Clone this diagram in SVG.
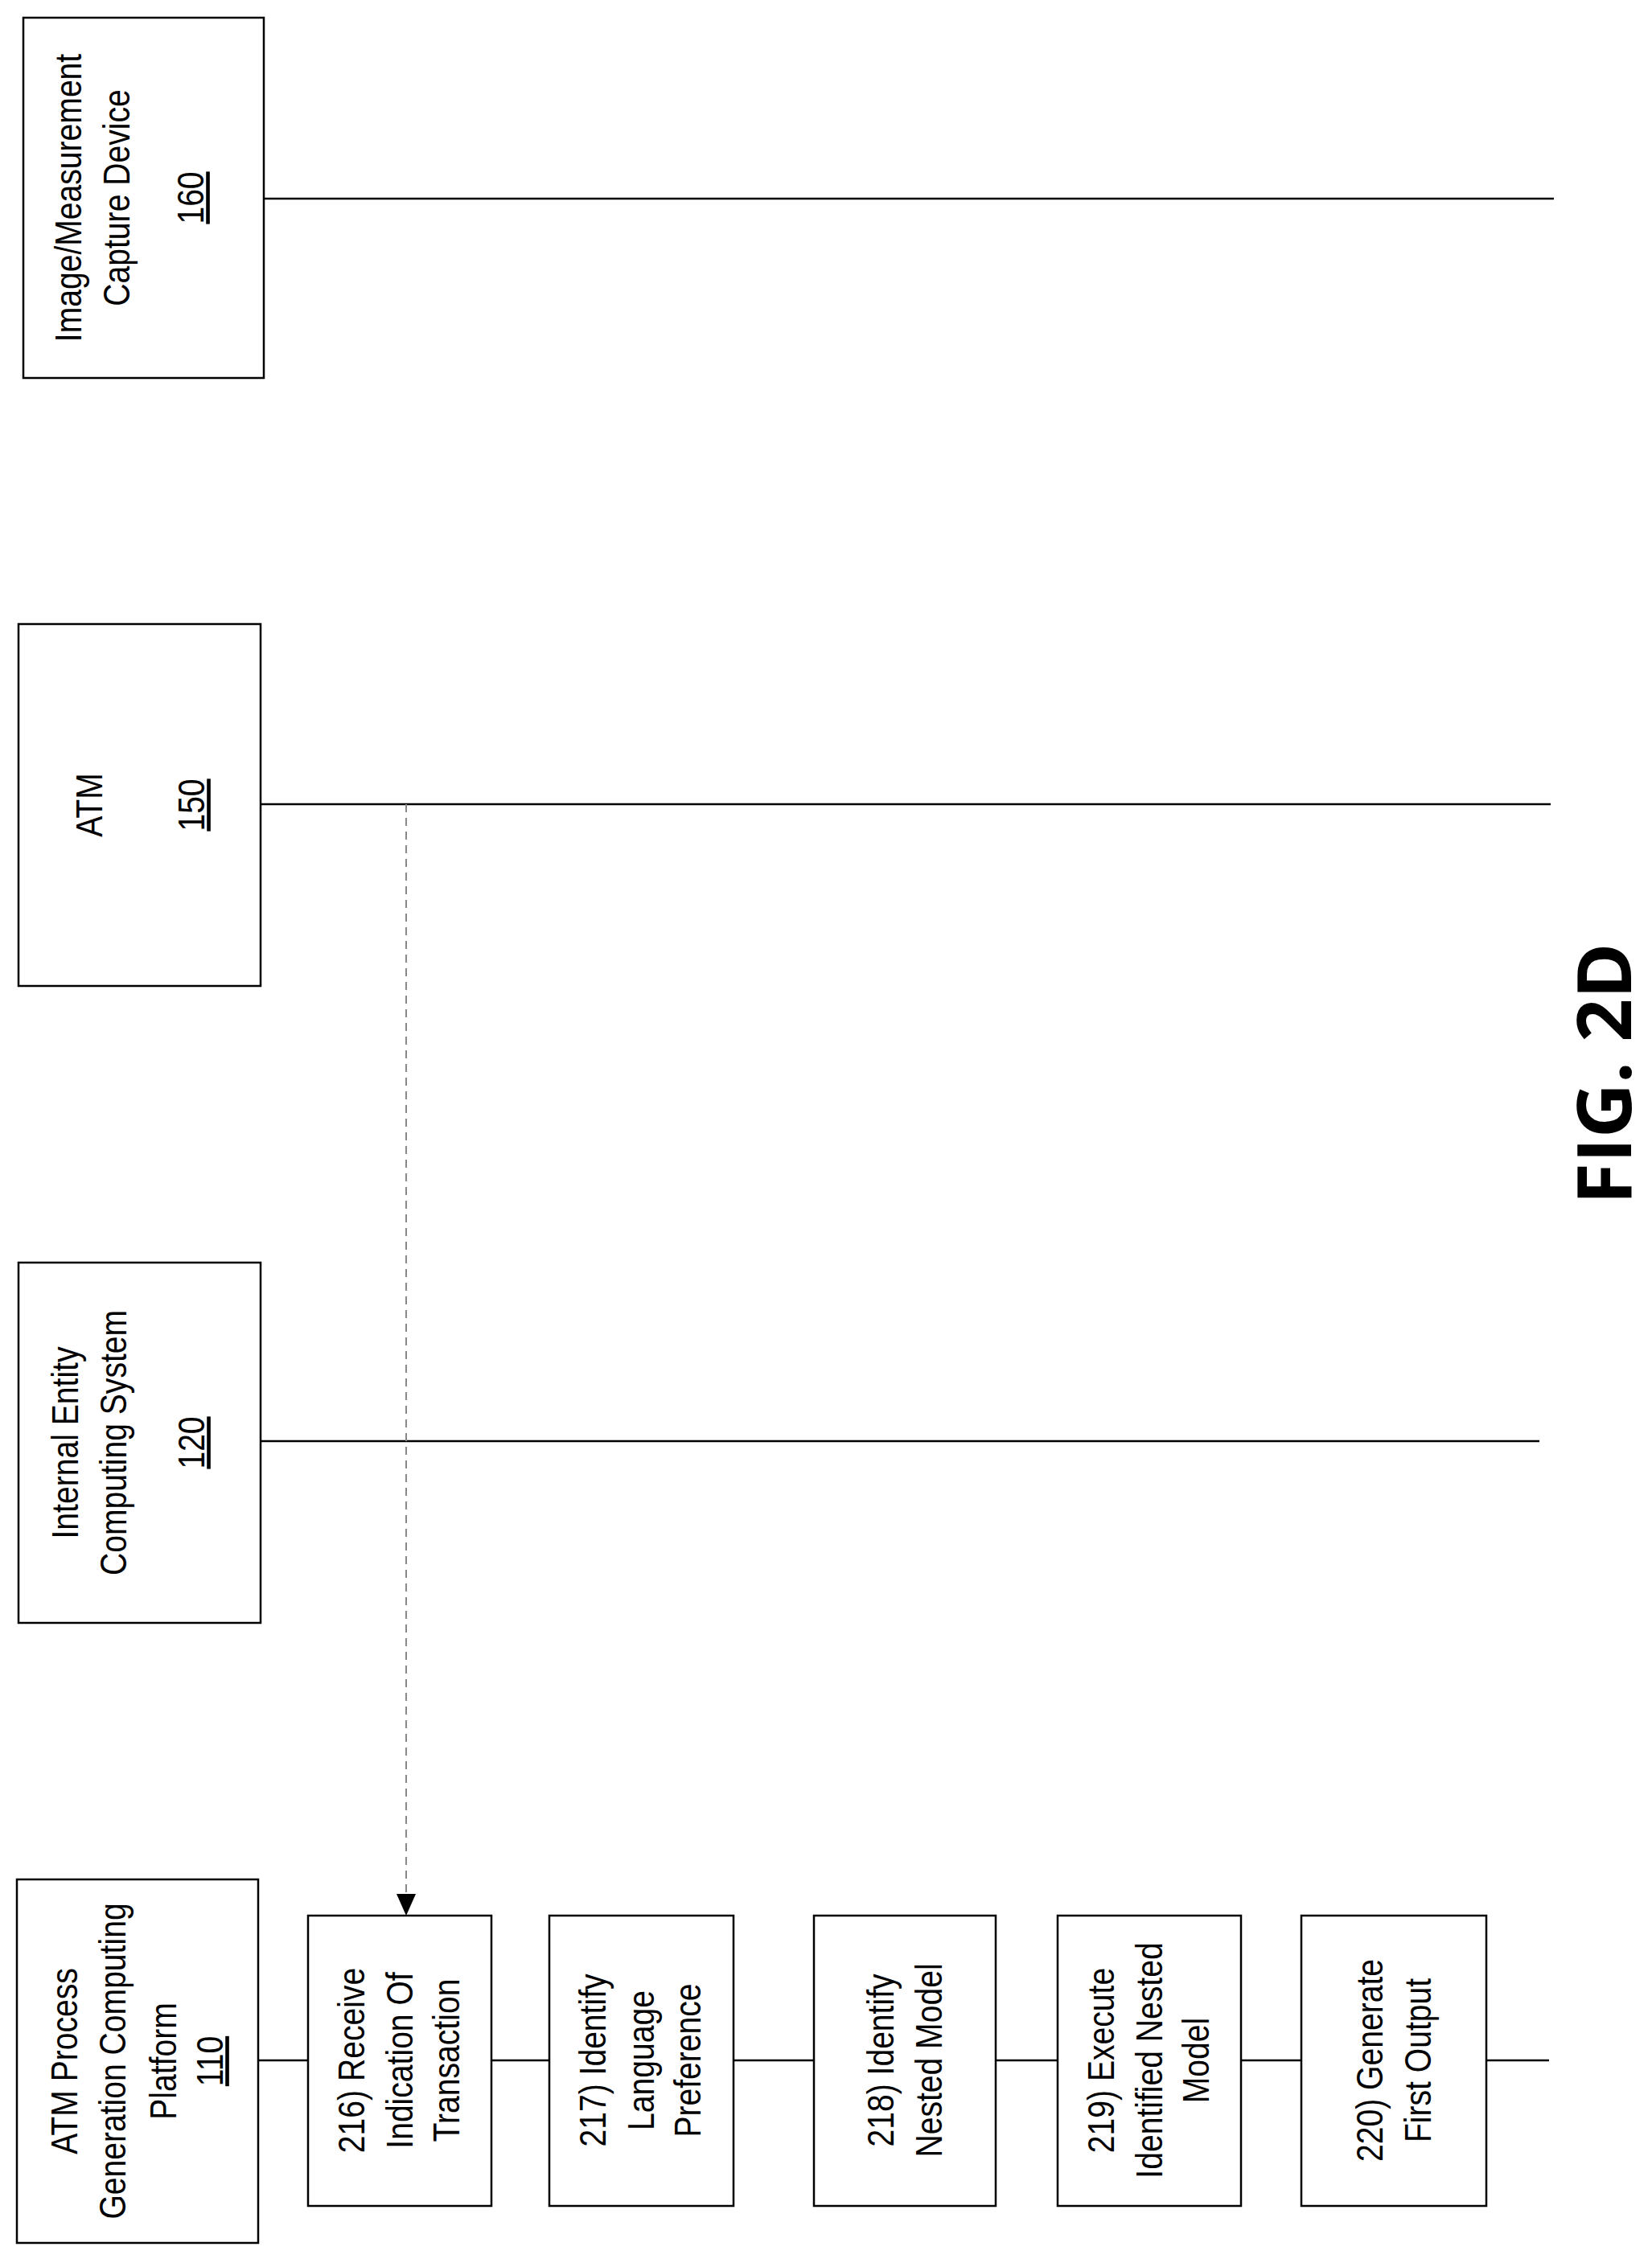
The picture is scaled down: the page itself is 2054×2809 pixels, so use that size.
<svg xmlns="http://www.w3.org/2000/svg" width="2054" height="2809" viewBox="0 0 2054 2809">
<style>
.b{fill:#fff;stroke:#000;stroke-width:2.5}
.l{stroke:#000;stroke-width:2.5;fill:none}
text{font-family:"Liberation Sans",Arial,sans-serif;font-size:46px;fill:#000;text-anchor:middle}
.u{text-decoration:underline}
.fig{font-family:"Open Sans","Noto Sans",sans-serif;font-weight:bold;font-size:94px}
</style>
<g id="connectors">
<line class="l" x1="328" y1="247" x2="1932" y2="247"/>
<line class="l" x1="324" y1="1000" x2="1928" y2="1000"/>
<line class="l" x1="324" y1="1792" x2="1914" y2="1792"/>
<line class="l" x1="321" y1="2562" x2="1926" y2="2562"/>
<line x1="505" y1="1000" x2="505" y2="2380" stroke="#888" stroke-width="2" stroke-dasharray="10,7"/>
<path d="M493,2355L517,2355L505,2382z" fill="#000"/>
</g>
<g id="n160"><rect class="b" x="29" y="22" width="299" height="448"/>
<g transform="translate(178,246) rotate(-90) scale(0.85,1)"><text y="-77">Image/Measurement</text><text y="-17">Capture Device</text><text y="75" class="u">160</text></g></g>
<g id="n150"><rect class="b" x="23" y="776" width="301" height="450"/>
<g transform="translate(174,1001) rotate(-90) scale(0.85,1)"><text y="-47">ATM</text><text y="80" class="u">150</text></g></g>
<g id="n120"><rect class="b" x="23" y="1570" width="301" height="448"/>
<g transform="translate(174,1794) rotate(-90) scale(0.85,1)"><text y="-77">Internal Entity</text><text y="-17">Computing System</text><text y="80" class="u">120</text></g></g>
<g id="n110"><rect class="b" x="21" y="2337" width="300" height="452"/>
<g transform="translate(171,2563) rotate(-90) scale(0.85,1)"><text y="-75">ATM Process</text><text y="-15">Generation Computing</text><text y="48">Platform</text><text y="106" class="u">110</text></g></g>
<g id="s216"><rect class="b" x="383" y="2382" width="228" height="361"/>
<g transform="translate(497,2562) rotate(-90) scale(0.85,1)"><text y="-44">216) Receive</text><text y="16">Indication Of</text><text y="74">Transaction</text></g></g>
<g id="s217"><rect class="b" x="683" y="2382" width="229" height="361"/>
<g transform="translate(797,2562) rotate(-90) scale(0.85,1)"><text y="-44">217) Identify</text><text y="16">Language</text><text y="74">Preference</text></g></g>
<g id="s218"><rect class="b" x="1012" y="2382" width="226" height="361"/>
<g transform="translate(1125,2562) rotate(-90) scale(0.85,1)"><text y="-14">218) Identify</text><text y="46">Nested Model</text></g></g>
<g id="s219"><rect class="b" x="1315" y="2382" width="228" height="361"/>
<g transform="translate(1429,2562) rotate(-90) scale(0.85,1)"><text y="-44">219) Execute</text><text y="16">Identified Nested</text><text y="74">Model</text></g></g>
<g id="s220"><rect class="b" x="1618" y="2382" width="230" height="361"/>
<g transform="translate(1733,2562) rotate(-90) scale(0.85,1)"><text y="-14">220) Generate</text><text y="46">First Output</text></g></g>
<text class="fig" transform="translate(2028,1335) rotate(-90)">FIG. 2D</text>
</svg>
